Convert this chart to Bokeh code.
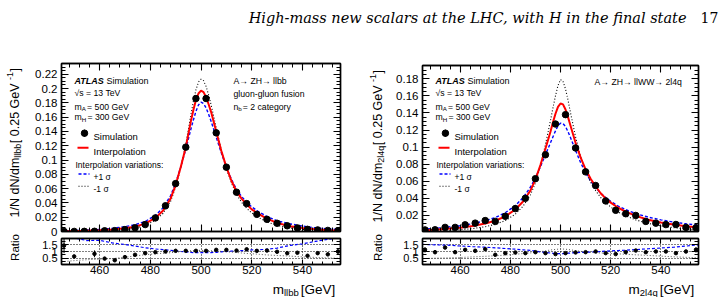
import math
import numpy as np
from bokeh.plotting import figure
from bokeh.layouts import column, row
from bokeh.models import (Range1d, LinearAxis, FixedTicker, CustomJSTickFormatter,
                          Label, Arrow, Grid)
from bokeh.embed import file_html
from bokeh.resources import INLINE

# ------------------------------------------------------------------ data
BIN_CENTRES = [446, 450, 454, 458, 462, 466, 470, 474, 478, 482, 486, 490, 494, 498,
               502, 506, 510, 514, 518, 522, 526, 530, 534, 538, 542, 546, 550, 554]

# A -> ZH -> llbb, gluon-gluon fusion, nb = 2
LLBB_SIM = [0.0001, 0.0001, 0.0002, 0.0003, 0.0010, 0.0012, 0.0027, 0.0052, 0.0097,
            0.0190, 0.0360, 0.0670, 0.1180, 0.1860, 0.1860, 0.1380, 0.0900, 0.0550,
            0.0390, 0.0240, 0.0170, 0.0115, 0.0080, 0.0050, 0.0030, 0.0022, 0.0015, 0.0012]
LLBB_SIM_ERR = [0.0003, 0.0003, 0.0003, 0.0003, 0.0004, 0.0004, 0.0006, 0.0008, 0.0010,
                0.0014, 0.0018, 0.0024, 0.0030, 0.0036, 0.0036, 0.0032, 0.0026, 0.0020,
                0.0016, 0.0012, 0.0010, 0.0008, 0.0007, 0.0006, 0.0005, 0.0004, 0.0004, 0.0003]
LLBB_RATIO = [1.43, 0.64, None, 0.83, 0.48, 0.36, 0.59, 0.76, 0.88, 0.95, 1.00, 1.05, 1.05,
              1.05, 1.05, 1.12, 1.12, 1.07, 1.16, 1.05, 1.07, 0.98, 0.88, 0.91, 0.69, 0.88,
              0.79, 1.00]
LLBB_RATIO_ERR = [0.55, 0.12, 0.0, 0.25, 0.08, 0.10, 0.07, 0.05, 0.04, 0.03, 0.03, 0.02,
                  0.02, 0.02, 0.02, 0.02, 0.03, 0.03, 0.04, 0.04, 0.05, 0.05, 0.06, 0.07,
                  0.08, 0.10, 0.12, 0.25]

# A -> ZH -> llWW -> 2l4q
L2L4Q_SIM = [0.0030, 0.0032, 0.0060, 0.0060, 0.0090, 0.0110, 0.0140, 0.0130, 0.0190,
             0.0280, 0.0400, 0.0630, 0.0910, 0.1270, 0.1380, 0.0990, 0.0710, 0.0550,
             0.0370, 0.0260, 0.0220, 0.0200, 0.0130, 0.0110, 0.0093, 0.0094, 0.0060, 0.0055]
L2L4Q_SIM_ERR = [0.0006, 0.0006, 0.0007, 0.0007, 0.0008, 0.0009, 0.0010, 0.0010, 0.0012,
                 0.0014, 0.0018, 0.0022, 0.0026, 0.0030, 0.0030, 0.0026, 0.0022, 0.0018,
                 0.0015, 0.0012, 0.0011, 0.0010, 0.0009, 0.0008, 0.0008, 0.0008, 0.0007, 0.0007]
L2L4Q_RATIO = [1.12, 0.95, 1.29, 0.95, 1.12, 1.05, 1.17, 0.76, 0.88, 0.93, 0.88, 0.95, 0.88,
               0.81, 0.88, 0.93, 0.95, 1.00, 0.88, 0.81, 0.95, 1.07, 0.95, 1.00, 1.00, 0.88,
               1.00, 1.12]
L2L4Q_RATIO_ERR = [0.20, 0.15, 0.12, 0.12, 0.10, 0.09, 0.08, 0.08, 0.06, 0.05, 0.04, 0.03,
                   0.03, 0.02, 0.02, 0.03, 0.03, 0.04, 0.05, 0.06, 0.07, 0.07, 0.08, 0.09,
                   0.10, 0.10, 0.12, 0.20]

# interpolated signal shapes (nominal and +/-1 sigma variations)
CURVE_MASS = [445, 450, 455, 460, 465, 470, 474, 478, 482, 485, 488, 490, 492, 494, 496,
              497, 498, 499, 500, 501, 502, 503, 504, 506, 508, 510, 512, 514, 516, 518,
              520, 523, 526, 530, 535, 540, 545, 550, 555]
LLBB_INTERP = [0.0004, 0.0006, 0.0010, 0.0016, 0.0027, 0.0045, 0.0068, 0.0110, 0.0190,
               0.0290, 0.0460, 0.0650, 0.0900, 0.1180, 0.1540, 0.1700, 0.1840, 0.1930,
               0.1970, 0.1950, 0.1880, 0.1780, 0.1670, 0.1400, 0.1130, 0.0900, 0.0710,
               0.0560, 0.0460, 0.0380, 0.0310, 0.0240, 0.0180, 0.0120, 0.0075, 0.0048,
               0.0030, 0.0019, 0.0012]
LLBB_UP = [0.0008, 0.0012, 0.0018, 0.0029, 0.0044, 0.0068, 0.0095, 0.0140, 0.0225,
           0.0330, 0.0500, 0.0680, 0.0900, 0.1150, 0.1430, 0.1560, 0.1680, 0.1770,
           0.1810, 0.1790, 0.1730, 0.1640, 0.1540, 0.1320, 0.1100, 0.0900, 0.0730,
           0.0590, 0.0490, 0.0410, 0.0345, 0.0270, 0.0210, 0.0150, 0.0108, 0.0075,
           0.0052, 0.0036, 0.0024]
LLBB_DOWN = [0.0001, 0.0002, 0.0004, 0.0007, 0.0013, 0.0026, 0.0046, 0.0084, 0.0158,
             0.0252, 0.0420, 0.0620, 0.0890, 0.1220, 0.1630, 0.1820, 0.1980, 0.2090,
             0.2130, 0.2110, 0.2030, 0.1910, 0.1770, 0.1450, 0.1140, 0.0880, 0.0680,
             0.0520, 0.0410, 0.0325, 0.0260, 0.0190, 0.0135, 0.0085, 0.0050, 0.0029,
             0.0017, 0.0010, 0.0006]
L2L4Q_INTERP = [0.0025, 0.0033, 0.0043, 0.0057, 0.0076, 0.0105, 0.0138, 0.0190, 0.0270,
                0.0360, 0.0490, 0.0620, 0.0790, 0.0980, 0.1180, 0.1290, 0.1390, 0.1470,
                0.1510, 0.1500, 0.1440, 0.1350, 0.1250, 0.1050, 0.0880, 0.0740, 0.0630,
                0.0540, 0.0460, 0.0400, 0.0350, 0.0290, 0.0245, 0.0195, 0.0150, 0.0118,
                0.0093, 0.0073, 0.0058]
L2L4Q_UP = [0.0038, 0.0049, 0.0063, 0.0080, 0.0103, 0.0138, 0.0175, 0.0232, 0.0315,
            0.0405, 0.0530, 0.0640, 0.0770, 0.0910, 0.1050, 0.1120, 0.1190, 0.1250,
            0.1280, 0.1275, 0.1240, 0.1180, 0.1110, 0.0960, 0.0820, 0.0700, 0.0605,
            0.0525, 0.0460, 0.0410, 0.0365, 0.0310, 0.0268, 0.0222, 0.0180, 0.0148,
            0.0122, 0.0102, 0.0086]
L2L4Q_DOWN = [0.0012, 0.0017, 0.0023, 0.0032, 0.0046, 0.0068, 0.0095, 0.0140, 0.0215,
              0.0305, 0.0440, 0.0580, 0.0780, 0.1030, 0.1310, 0.1460, 0.1600, 0.1720,
              0.1790, 0.1770, 0.1680, 0.1550, 0.1400, 0.1120, 0.0890, 0.0720, 0.0590,
              0.0490, 0.0410, 0.0350, 0.0298, 0.0240, 0.0195, 0.0148, 0.0107, 0.0078,
              0.0057, 0.0042, 0.0031]

MASS_TICKS = [460, 480, 500, 520, 540]
LLBB_YTICKS = [0, 0.02, 0.04, 0.06, 0.08, 0.1, 0.12, 0.14, 0.16, 0.18, 0.2, 0.22]
L2L4Q_YTICKS = [0.02, 0.04, 0.06, 0.08, 0.1, 0.12, 0.14, 0.16, 0.18]
RATIO_TICKS = [0.5, 1, 1.5]

HEADER = "High-mass new scalars at the LHC, with H in the final state"
PAGE_NO = "17"

# ------------------------------------------------------------------ styling helpers
FONT = "Liberation Sans"
RED, BLUE, BLACK = "#ff0000", "#0000ff", "#000000"
DASHED, DOTTED = "3 2", "1 2"

# Helvetica/Arial advance widths (per em) for laying out composite labels
_W = {" ": .278, "/": .278, "N": .722, "d": .556, "m": .833, "l": .222, "b": .556,
      "[": .278, "]": .278, ".": .278, "G": .778, "e": .556, "V": .667, "-": .333,
      "q": .556, "A": .667, "H": .722, "n": .556, "=": .584, "T": .611, "S": .667,
      "i": .222, "u": .556, "a": .556, "t": .278, "o": .556, "L": .556}
_WB = {"A": .722, "T": .611, "L": .611, "S": .667, " ": .278}


def text_width(s, size, bold=False):
    table = _WB if bold else _W
    return sum(table.get(c, _W.get(c, .556)) for c in s) * size


def tick_format():
    return CustomJSTickFormatter(code="return String(Math.round(tick * 1000) / 1000);")


def add_axis(p, side, ticks, minor, labels, tick_in, minor_in, size="11.5px", standoff=3):
    ax = LinearAxis(ticker=FixedTicker(ticks=list(ticks), minor_ticks=list(minor)),
                    axis_line_color=BLACK, axis_line_width=1.4,
                    major_tick_in=tick_in, major_tick_out=0,
                    minor_tick_in=minor_in, minor_tick_out=0,
                    major_tick_line_color=BLACK, minor_tick_line_color=BLACK,
                    major_tick_line_width=1.1, minor_tick_line_width=1.0)
    if labels:
        ax.formatter = tick_format()
        ax.major_label_text_font = FONT
        ax.major_label_text_font_size = size
        ax.major_label_text_color = BLACK
        ax.major_label_standoff = standoff
    else:
        # tick marks only: labels are switched off entirely
        ax.major_label_text_alpha = 0
        ax.major_label_text_font_size = "1px"
        ax.major_label_standoff = 0
    p.add_layout(ax, side)


def panel(width, height, xr, yr, border, outline=BLACK):
    left, right, top, bottom = border
    p = figure(width=width, height=height, x_range=xr, y_range=yr,
               x_axis_location=None, y_axis_location=None, toolbar_location=None,
               output_backend="svg", min_border_left=left, min_border_right=right,
               min_border_top=top, min_border_bottom=bottom,
               outline_line_color=outline, outline_line_width=1.4,
               background_fill_color="white", border_fill_color="white")
    p.grid.visible = False
    return p


def blank(width, height):
    # a plain canvas used only for titles set outside the plot frames
    return panel(width, height, Range1d(0, 1), Range1d(0, 1), (0, 0, 0, 0), outline=None)


class Frame:
    """Page position of a plot frame, used to place annotations in pixels."""

    def __init__(self, p, left, top, right, bottom):
        self.p, self.l, self.t, self.r, self.b = p, left, top, right, bottom

    def text(self, x, y, s, size, style="normal", align="left", angle=0.0,
             font=FONT, baseline="alphabetic"):
        self.p.add_layout(Label(x=x - self.l, y=self.b - y, x_units="screen",
                                y_units="screen", text=s, text_font=font,
                                text_font_size=f"{size}px", text_font_style=style,
                                text_align=align, text_baseline=baseline, angle=angle,
                                text_color=BLACK))

    def rich(self, x, y, parts, angle=0.0):
        # parts: (text, size, baseline shift downwards, style, extra gap after)
        pos = 0.0
        for s, size, shift, style, gap in parts:
            if angle == 0.0:
                self.text(x + pos, y + shift, s, size, style)
            else:
                self.text(x + shift, y - pos, s, size, style, angle=math.pi / 2)
            pos += text_width(s, size, bold="bold" in style) + gap
        return pos

    def line(self, x0, x1, y, color, width, dash):
        self.p.add_layout(Arrow(end=None, x_start=x0 - self.l, y_start=self.b - y,
                                x_end=x1 - self.l, y_end=self.b - y,
                                start_units="screen", end_units="screen",
                                line_color=color, line_width=width, line_dash=dash))

    def to_data(self, x, y):
        xr, yr = self.p.x_range, self.p.y_range
        dx = xr.start + (x - self.l) / (self.r - self.l) * (xr.end - xr.start)
        dy = yr.start + (self.b - y) / (self.b - self.t) * (yr.end - yr.start)
        return dx, dy


def rich_width(parts):
    return sum(text_width(s, size, bold="bold" in style) + gap
               for s, size, _, style, gap in parts)


def n(s, size):
    return (s, size, 0, "normal", 0)


def build_column(col_left, frame_left, frame_right, main_top, y_range,
                 yticks, sim, sim_err, ratio, ratio_err, interp, up, down, sub,
                 process_lines):
    x_range = Range1d(445, 555)
    lab_w = 30
    w = 363 - lab_w
    inner_left = col_left + lab_w
    main_bottom, ratio_top, ratio_bottom = 231, 238, 264
    main_end, ratio_end = 237, 279
    bl, br = frame_left - inner_left, col_left + 363 - frame_right

    main = panel(w, main_end - 40, x_range, Range1d(*y_range),
                 (bl, br, main_top - 40, main_end - main_bottom))
    rat = panel(w, ratio_end - main_end, x_range, Range1d(0.05, 1.95),
                (bl, br, ratio_top - main_end, ratio_end - ratio_bottom))
    ylab = blank(lab_w, 297 - 40)
    # the title strip shares the panels' side borders so the stacked frames line up
    xlab = panel(w, 297 - ratio_end, Range1d(0, 1), Range1d(0, 1), (bl, br, 0, 0),
                 outline=None)

    x_minor = [m for m in range(448, 556, 4) if m not in MASS_TICKS]
    y_minor = [round(v, 4) for v in np.arange(0.005, y_range[1], 0.005)
               if min(abs(v - t) for t in yticks) > 1e-6]

    add_axis(main, "below", MASS_TICKS, x_minor, False, 7, 4)
    add_axis(main, "above", MASS_TICKS, x_minor, False, 7, 4)
    add_axis(main, "left", yticks, y_minor, True, 7, 4, standoff=4)
    add_axis(main, "right", yticks, y_minor, False, 7, 4)

    r_minor = [0.25, 0.75, 1.25, 1.75]
    add_axis(rat, "below", MASS_TICKS, x_minor, True, 5, 3, standoff=1)
    add_axis(rat, "above", MASS_TICKS, x_minor, False, 5, 3)
    add_axis(rat, "left", RATIO_TICKS, r_minor, True, 7, 4, size="11px", standoff=4)
    add_axis(rat, "right", RATIO_TICKS, r_minor, False, 7, 4)
    rat.add_layout(Grid(dimension=0, ticker=FixedTicker(ticks=MASS_TICKS),
                        grid_line_color=BLACK, grid_line_dash=DOTTED, grid_line_width=1))
    rat.add_layout(Grid(dimension=1, ticker=FixedTicker(ticks=RATIO_TICKS),
                        grid_line_color=BLACK, grid_line_dash=DOTTED, grid_line_width=1))

    xs = np.array(BIN_CENTRES, dtype=float)
    ys = np.array(sim, dtype=float)
    es = np.array(sim_err, dtype=float)
    cm = np.array(CURVE_MASS, dtype=float)
    nom = np.array(interp, dtype=float)
    hi = np.array(up, dtype=float)
    lo = np.array(down, dtype=float)

    # main panel: variations, nominal interpolation, simulated points
    main.line(cm, hi, line_color=BLUE, line_width=1.4, line_dash=DASHED)
    main.line(cm, lo, line_color=BLACK, line_width=1.1, line_dash=DOTTED)
    main.line(cm, nom, line_color=RED, line_width=2)
    main.segment(xs, ys - es, xs, ys + es, line_color=BLACK, line_width=1.2)
    main.scatter(xs, ys, size=6.5, marker="circle", fill_color=BLACK, line_color=BLACK)

    # ratio panel
    rx = np.array(ratio, dtype=float)
    re = np.array(ratio_err, dtype=float)
    rat.line(cm, hi / nom, line_color=BLUE, line_width=1.2, line_dash=DASHED)
    rat.line(cm, lo / nom, line_color="#555555", line_width=1.0, line_dash=DOTTED)
    ok = ~np.isnan(rx)
    rat.segment(xs[ok], (rx - re)[ok], xs[ok], (rx + re)[ok], line_color=BLACK,
                line_width=1.0)
    rat.scatter(xs[ok], rx[ok], size=3.5, marker="circle", fill_color=BLACK,
                line_color=BLACK)

    fm = Frame(main, frame_left, main_top, frame_right, main_bottom)
    fy = Frame(ylab, col_left, 40, col_left + lab_w, 297)
    fx = Frame(xlab, frame_left, ratio_end, frame_right, 297)

    # legend block
    lx = frame_left + 13
    fm.rich(lx, 80.5, [("ATLAS", 9, 0, "bold italic", 2), n(" Simulation", 9)])
    fm.text(lx, 92, "√s = 13 TeV", 8.7)
    fm.rich(lx, 106, [n("m", 8.7), ("A", 6.2, 2, "normal", 1.2), n(" = 500 GeV", 8.7)])
    fm.rich(lx, 116.5, [n("m", 8.7), ("H", 6.2, 2, "normal", 1.2), n(" = 300 GeV", 8.7)])
    mx, my = fm.to_data(frame_left + 23, 132.7)
    ex0 = fm.to_data(frame_left + 23, 136.2)[1]
    ex1 = fm.to_data(frame_left + 23, 129.2)[1]
    main.segment([mx], [ex0], [mx], [ex1], line_color=BLACK, line_width=1.2)
    main.scatter([mx], [my], size=6.5, marker="circle", fill_color=BLACK, line_color=BLACK)
    fm.text(frame_left + 32, 136.2, "Simulation", 9.5)
    fm.line(frame_left + 16, frame_left + 27, 147.3, RED, 2, "solid")
    fm.text(frame_left + 32, 150.7, "Interpolation", 9.5)
    fm.text(frame_left + 14, 164.8, "Interpolation variations:", 8.5)
    fm.line(frame_left + 17, frame_left + 28, 173.5, BLUE, 1.4, DASHED)
    fm.text(frame_left + 32, 176.6, "+1 σ", 8.5)
    fm.line(frame_left + 17, frame_left + 28, 185.7, BLACK, 1.1, DOTTED)
    fm.text(frame_left + 32, 188.8, "-1 σ", 8.5)

    # process description
    for (px, py, parts) in process_lines:
        fm.rich(px, py, parts)

    # y-axis title, ending at the top of the frame
    ypar = [n("1/N dN/dm", 12.5), (sub, 9, 3, "normal", 0.5),
            n(" [ 0.25 GeV", 12.5), ("-1", 9, -5, "normal", 0.5), n(" ]", 12.5)]
    tw = rich_width(ypar)
    fy.rich(col_left + 14, main_top + 1 + tw, ypar, angle=math.pi / 2)
    fy.text(col_left + 14, 247, "Ratio", 11.5, align="center", angle=math.pi / 2)

    # x-axis title, ending at the right edge of the frame
    xpar = [n("m", 13.5), (sub, 9.5, 3.5, "normal", 2.0), n(" [GeV]", 13.5)]
    fx.rich(frame_right - 1.5 - rich_width(xpar), 288.5, xpar)

    return row(ylab, column(main, rat, xlab, spacing=0), spacing=0)


llbb_text = [
    (233, 80, [n("A→ ZH→ llbb", 8.7)]),
    (233, 93, [n("gluon-gluon fusion", 8.7)]),
    (233, 106, [n("n", 8.7), ("b", 6.2, 2, "normal", 1), n(" = 2 category", 8.7)]),
]
l2l4q_text = [
    (593, 81.5, [n("A→ ZH→ llWW→ 2l4q", 8.7)]),
]

left = build_column(0, 61, 340, 63, (0.0, 0.235), LLBB_YTICKS,
                    LLBB_SIM, LLBB_SIM_ERR, LLBB_RATIO, LLBB_RATIO_ERR,
                    LLBB_INTERP, LLBB_UP, LLBB_DOWN, "llbb", llbb_text)
right = build_column(363, 421, 698, 65, (0.0012, 0.1955), L2L4Q_YTICKS,
                     L2L4Q_SIM, L2L4Q_SIM_ERR, L2L4Q_RATIO, L2L4Q_RATIO_ERR,
                     L2L4Q_INTERP, L2L4Q_UP, L2L4Q_DOWN, "2l4q", l2l4q_text)

# running page header
head = blank(726, 40)
fh = Frame(head, 0, 0, 726, 40)
fh.text(686, 17, HEADER, 14.5, style="italic", align="right", font="DejaVu Serif")
fh.text(700, 17, PAGE_NO, 14, font="DejaVu Serif")

layout = column(head, row(left, right, spacing=0), spacing=0)

with open("out.html", "w") as f:
    f.write(file_html(layout, INLINE))
